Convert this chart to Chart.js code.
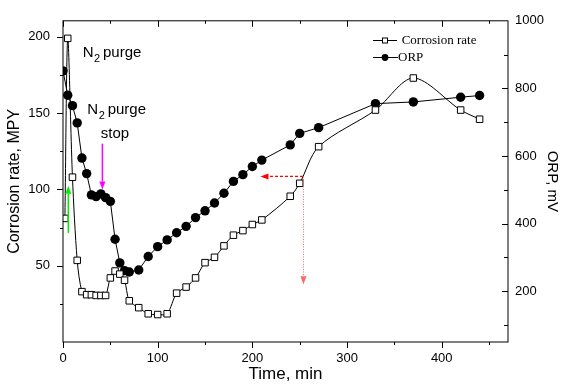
<!DOCTYPE html>
<html>
<head>
<meta charset="utf-8">
<script src="https://cdn.jsdelivr.net/npm/chart.js@4.4.1/dist/chart.umd.min.js"></script>
<style>
  body { margin: 0; background: #fff; }
  canvas { display: block; }
</style>
</head>
<body>
<canvas id="chart" width="561" height="384"></canvas>
<script>
// time (min) and readings
const corrTime = [2, 5, 10, 15, 20, 25, 30, 35, 40, 45, 50, 55, 60, 65, 70, 80, 90, 100, 110, 120, 130, 140, 150, 160, 170, 180, 190, 200, 210, 240, 250, 270, 330, 370, 420, 440];
const corrRate = [81, 199, 108, 53.5, 33, 31, 31, 30.5, 30.5, 30.5, 42, 46.5, 44.5, 40.5, 27, 22.5, 18.5, 18, 18.5, 32, 36, 42, 52, 55.5, 63, 70, 73, 77, 80, 95.5, 104, 128, 152, 173, 152, 146];
const orpTime = [0, 5, 10, 15, 20, 25, 30, 35, 40, 45, 50, 55, 60, 65, 70, 80, 90, 100, 110, 120, 130, 140, 150, 160, 170, 180, 190, 200, 210, 240, 250, 270, 330, 370, 420, 440];
const orpValue = [852, 780, 749, 698, 594, 548, 485, 480, 488, 477, 466, 354, 284, 261, 257, 263, 303, 332, 352, 373, 392, 418, 438, 461, 490, 525, 545, 569, 588, 633, 667, 684, 755, 760, 774, 779];

const xTicks = [0, 100, 200, 300, 400];
const yTicks = [50, 100, 150, 200];
const y2Ticks = [200, 400, 600, 800, 1000];

const sans = 'Liberation Sans, Arial, sans-serif';
const serif = 'Liberation Serif, Times New Roman, serif';

function toPoints(xs, ys) {
    return xs.map((t, i) => ({x: t, y: ys[i]}));
}

function arrow(ctx, x1, y1, x2, y2, color, dash, lw) {
    ctx.save();
    ctx.strokeStyle = color;
    ctx.fillStyle = color;
    ctx.lineWidth = lw;
    ctx.setLineDash(dash);
    const ang = Math.atan2(y2 - y1, x2 - x1);
    const len = 8;
    ctx.beginPath();
    ctx.moveTo(x1, y1);
    ctx.lineTo(x2 - Math.cos(ang) * len, y2 - Math.sin(ang) * len);
    ctx.stroke();
    ctx.setLineDash([]);
    ctx.beginPath();
    ctx.moveTo(x2, y2);
    ctx.lineTo(x2 - Math.cos(ang) * len - Math.sin(ang) * 3, y2 - Math.sin(ang) * len + Math.cos(ang) * 3);
    ctx.lineTo(x2 - Math.cos(ang) * len + Math.sin(ang) * 3, y2 - Math.sin(ang) * len - Math.cos(ang) * 3);
    ctx.closePath();
    ctx.fill();
    ctx.restore();
}

function n2purge(ctx, px, py) {
    ctx.font = '15px ' + sans;
    ctx.fillText('N', px, py);
    const w = ctx.measureText('N').width;
    ctx.font = '11px ' + sans;
    ctx.fillText('2', px + w + 0.5, py + 5);
    ctx.font = '15px ' + sans;
    ctx.fillText('purge', px + 20.3, py);
}

// frame, tick marks, legend and the notes on the plot
const decor = {
    id: 'decor',
    afterDraw(chart) {
        const {ctx, chartArea: a, scales: {x, y, y2}} = chart;
        ctx.save();
        ctx.strokeStyle = '#000';
        ctx.lineWidth = 1;
        ctx.strokeRect(a.left, a.top, a.right - a.left, a.bottom - a.top);

        ctx.beginPath();
        for (let v = 0; v <= 450; v += 50) {
            const px = Math.round(x.getPixelForValue(v)) + 0.5;
            const len = v % 100 === 0 ? 6 : 3;
            ctx.moveTo(px, a.bottom); ctx.lineTo(px, a.bottom + len);
            ctx.moveTo(px, a.top); ctx.lineTo(px, a.top + len);
        }
        for (let v = 25; v <= 200; v += 25) {
            const py = Math.round(y.getPixelForValue(v)) + 0.5;
            const len = v % 50 === 0 ? 6 : 3;
            ctx.moveTo(a.left, py); ctx.lineTo(a.left - len, py);
        }
        for (let v = 100; v < 1000; v += 100) {
            const py = Math.round(y2.getPixelForValue(v)) + 0.5;
            const len = v % 200 === 0 ? 6 : 4;
            ctx.moveTo(a.right, py); ctx.lineTo(a.right - len, py);
        }
        ctx.stroke();

        // legend
        ctx.lineWidth = 1;
        ctx.beginPath();
        ctx.moveTo(373, 40.5); ctx.lineTo(397, 40.5);
        ctx.moveTo(373, 57.5); ctx.lineTo(398, 57.5);
        ctx.stroke();
        ctx.fillStyle = '#fff';
        ctx.fillRect(382.5, 38, 5, 5);
        ctx.strokeRect(382.5, 38, 5, 5);
        ctx.fillStyle = '#000';
        ctx.beginPath();
        ctx.arc(385, 57.5, 3.4, 0, Math.PI * 2);
        ctx.fill();
        ctx.font = '13px ' + serif;
        ctx.textBaseline = 'middle';
        ctx.fillText('Corrosion rate', 401.7, 40.5);
        ctx.fillText('ORP', 398, 57.5);

        // notes
        ctx.textBaseline = 'alphabetic';
        n2purge(ctx, x.getPixelForValue(20.8), y.getPixelForValue(186.5));
        n2purge(ctx, x.getPixelForValue(25.7), y.getPixelForValue(149.7));
        ctx.font = '15px ' + sans;
        ctx.fillText('stop', x.getPixelForValue(39.9), y.getPixelForValue(133.8));
        ctx.restore();

        arrow(ctx, x.getPixelForValue(5.6), y.getPixelForValue(71.5), x.getPixelForValue(5.6), y.getPixelForValue(102.4), '#00ee00', [], 1.5);
        arrow(ctx, x.getPixelForValue(41.6), y.getPixelForValue(130), x.getPixelForValue(41.6), y.getPixelForValue(99.9), '#ff00ff', [], 1.5);
        arrow(ctx, x.getPixelForValue(253.5), y.getPixelForValue(108.5), x.getPixelForValue(208.5), y.getPixelForValue(108.5), '#ff0000', [3, 2], 1.3);
        arrow(ctx, x.getPixelForValue(254), y.getPixelForValue(108.5), x.getPixelForValue(254), y.getPixelForValue(37.8), '#ff6666', [1, 1.5], 1);
    }
};

new Chart(document.getElementById('chart'), {
    type: 'line',
    data: {
        datasets: [{
            label: 'Corrosion rate',
            data: toPoints(corrTime, corrRate),
            yAxisID: 'y',
            borderColor: '#000',
            borderWidth: 1,
            tension: 0.3,
            pointStyle: 'rect',
            pointRadius: 4.6,
            pointBackgroundColor: '#fff',
            pointBorderColor: '#000',
            pointBorderWidth: 1
        }, {
            label: 'ORP',
            data: toPoints(orpTime, orpValue),
            yAxisID: 'y2',
            borderColor: '#000',
            borderWidth: 1,
            tension: 0,
            pointStyle: 'circle',
            pointRadius: 4.7,
            pointBackgroundColor: '#000',
            pointBorderColor: '#000',
            pointBorderWidth: 0
        }]
    },
    options: {
        responsive: false,
        animation: false,
        devicePixelRatio: 1,
        layout: {padding: {top: 15, left: 0, right: 0, bottom: 0}},
        plugins: {legend: {display: false}, tooltip: {enabled: false}},
        scales: {
            x: {
                type: 'linear',
                min: 0,
                max: 470,
                grid: {display: false, drawTicks: false},
                border: {display: false},
                afterFit: s => { s.height = 42; },
                afterBuildTicks: s => { s.ticks = xTicks.map(v => ({value: v})); },
                ticks: {font: {family: sans, size: 13}, color: '#000', padding: 9, maxRotation: 0, autoSkip: false, callback: v => String(v)},
                title: {display: true, text: 'Time, min', color: '#000', font: {family: sans, size: 17, lineHeight: 1}, padding: {top: 0, bottom: 1}}
            },
            y: {
                position: 'left',
                min: 0,
                max: 210.5,
                grid: {display: false, drawTicks: false},
                border: {display: false},
                afterFit: s => { s.width = 63; },
                afterBuildTicks: s => { s.ticks = yTicks.map(v => ({value: v})); },
                ticks: {font: {family: sans, size: 13}, color: '#000', padding: 13, callback: v => String(v)},
                title: {display: true, text: 'Corrosion rate, MPY', color: '#000', font: {family: sans, size: 16}, padding: {top: 5, bottom: 0}}
            },
            y2: {
                position: 'right',
                min: 50,
                max: 1000,
                grid: {display: false, drawTicks: false},
                border: {display: false},
                afterFit: s => { s.width = 53; },
                afterBuildTicks: s => { s.ticks = y2Ticks.map(v => ({value: v})); },
                ticks: {font: {family: sans, size: 13}, color: '#000', padding: 7, callback: v => String(v)},
                title: {display: true, text: 'ORP, mV', color: '#000', font: {family: sans, size: 15}, padding: {top: 0, bottom: 0}}
            }
        }
    },
    plugins: [decor]
});
</script>
</body>
</html>
